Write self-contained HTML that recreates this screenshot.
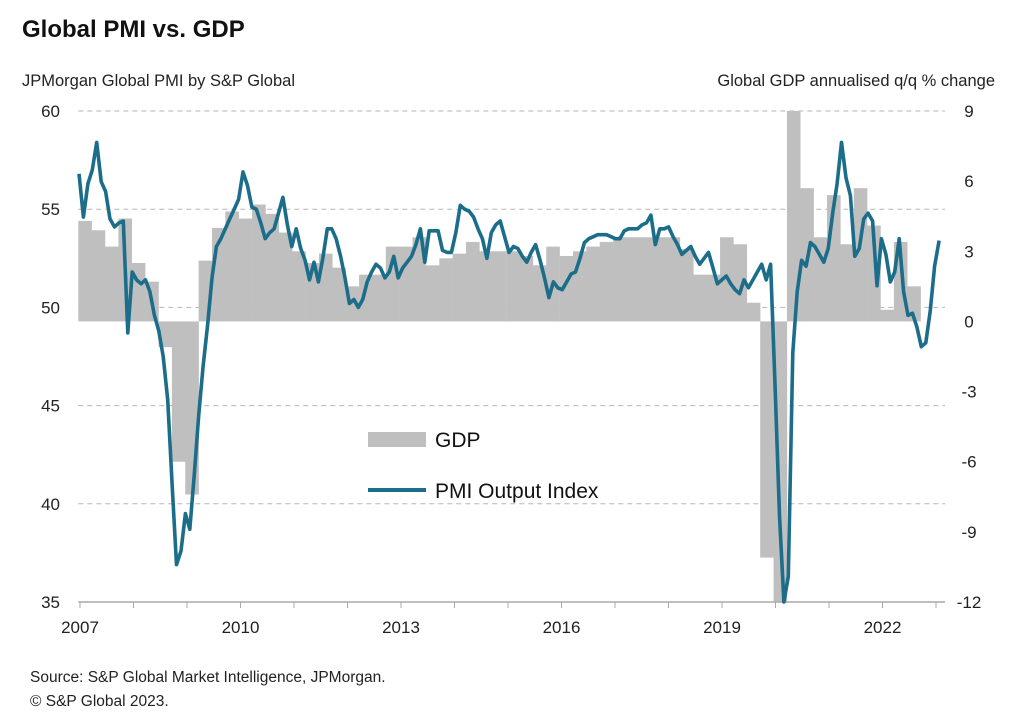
<!DOCTYPE html>
<html><head><meta charset="utf-8"><style>
body{margin:0;background:#fff;}
svg{display:block;font-family:"Liberation Sans",Arial,sans-serif;}
</style></head><body>
<svg id="chart" width="1026" height="722" viewBox="0 0 1026 722">
<text x="22" y="37" font-size="24" font-weight="bold" fill="#111">Global PMI vs. GDP</text>
<text x="22" y="86" font-size="16.5" fill="#222">JPMorgan Global PMI by S&amp;P Global</text>
<text x="995" y="86" font-size="16.5" fill="#222" text-anchor="end">Global GDP annualised q/q % change</text>
<g id="grid"></g>
<g id="bars"></g>
<g id="axes"></g>
<g id="line"></g>
<g>
<rect x="368" y="432" width="58" height="15" fill="#bfbfbf"/>
<text x="435" y="447" font-size="21" fill="#111">GDP</text>
<line x1="368" y1="490" x2="426" y2="490" stroke="#1b6d8a" stroke-width="4"/>
<text x="435" y="498" font-size="21" fill="#111">PMI Output Index</text>
</g>
<text x="30" y="682" font-size="15.5" fill="#222">Source: S&amp;P Global Market Intelligence, JPMorgan.</text>
<text x="30" y="706" font-size="15.5" fill="#222">© S&amp;P Global 2023.</text>
</svg>
<script>
const pmiTicks=[60,55,50,45,40,35];
const gdpTicks=[9,6,3,0,-3,-6,-9,-12];
const yearLabels=[2007,2010,2013,2016,2019,2022];
const pmi2007=[56.8,54.6,56.3,57.0,58.4,56.4,55.9,54.5,54.1,54.3,54.4,48.7];
const pmi2008=[51.8,51.4,51.2,51.4,50.8,49.6,48.8,47.5,45.3,41.0,36.9,37.6];
const pmi2009=[39.5,38.7,41.5,44.5,47.0,49.1,51.5,53.1,53.5,54.0,54.5,55.0];
const pmi2010=[55.5,56.9,56.2,55.1,55.0,54.3,53.5,53.8,54.0,54.8,55.6,54.2];
const pmi2011=[53.1,54.0,53.0,52.4,51.4,52.3,51.3,52.5,54.0,54.0,53.5,52.6];
const pmi2012=[51.5,50.2,50.4,50.0,50.4,51.3,51.8,52.2,52.0,51.5,51.8,52.6];
const pmi2013=[51.5,52.0,52.3,52.6,53.2,54.0,52.3,53.9,53.9,53.9,52.9,52.8];
const pmi2014=[52.8,53.8,55.2,55.0,54.9,54.6,54.0,53.5,52.5,53.8,54.2,54.4];
const pmi2015=[53.6,52.8,53.1,53.0,52.6,52.3,52.8,53.2,52.4,51.5,50.5,51.3];
const pmi2016=[51.0,50.9,51.3,51.7,51.8,52.5,53.3,53.5,53.6,53.7,53.7,53.7];
const pmi2017=[53.6,53.5,53.5,53.9,54.0,54.0,54.0,54.2,54.3,54.7,53.2,54.0];
const pmi2018=[54.0,54.1,53.6,53.2,52.7,52.9,53.1,52.6,52.2,52.5,52.8,52.0];
const pmi2019=[51.2,51.4,51.6,51.2,50.9,50.7,51.4,51.0,51.4,51.8,52.2,51.4];
const pmi2020=[52.2,46.1,39.4,26.2,36.3,47.7,50.8,52.4,52.1,53.3,53.1,52.7];
const pmi2021=[52.3,53.0,54.8,56.3,58.4,56.6,55.7,52.6,53.0,54.5,54.8,54.4];
const pmi2022=[51.1,53.5,52.7,51.3,51.8,53.5,50.8,49.6,49.7,49.0,48.0,48.2];
const pmi2023=[49.8,52.1,53.4];
const gdpQuarterly=[4.3,3.9,3.2,4.4, 2.5,1.7,-1.1,-6.0, -7.4,2.6,4.0,4.7, 4.4,5.0,4.6,3.8,
 3.0,2.5,2.9,2.3, 1.5,2.0,2.0,3.2, 3.2,3.6,2.4,2.7, 2.9,3.4,3.0,3.0,
 3.0,2.8,2.4,3.2, 2.8,3.0,3.2,3.4, 3.6,3.6,3.6,3.6, 3.6,3.1,2.0,2.0,
 3.6,3.3,0.8, -10.1,-30,30,5.7, 3.6,5.4,3.3,5.7, 4.1,0.5,3.4,1.5];

const NS="http://www.w3.org/2000/svg";
const X0=78.3, XR=945, PY60=111, PY35=602, GY9=111, GYm12=602;
const yP=v=>PY60+(60-v)*(PY35-PY60)/25;
const yG=v=>GY9+(9-v)*(GYm12-GY9)/21;
const xYear=y=>80+(y-2007)*53.5;
const xMonth=i=>79+i*53.2/12;
const xQ=k=>X0+k*13.37;
function mk(tag,attrs,parent){const e=document.createElementNS(NS,tag);for(const k in attrs)e.setAttribute(k,attrs[k]);parent.appendChild(e);return e;}
const grid=document.getElementById('grid'),bars=document.getElementById('bars'),axes=document.getElementById('axes'),lineG=document.getElementById('line');

pmiTicks.forEach(v=>{
 if(v>35){const l=mk('line',{x1:X0,x2:XR,y1:yP(v),y2:yP(v),stroke:'#b5b5b5','stroke-width':1,'stroke-dasharray':'5,4'},grid);
 
 }
 const t=mk('text',{x:60,y:yP(v)+6,'font-size':17,fill:'#222','text-anchor':'end'},axes);t.textContent=v;
 
 
});
gdpTicks.forEach(v=>{
 const t=mk('text',{x:969,y:yG(v)+6,'font-size':17,fill:'#222','text-anchor':'middle'},axes);t.textContent=v;
 
 
});
const clip=v=>Math.max(-12,Math.min(9,v));
gdpQuarterly.forEach((v,k)=>{
 const y0=yG(0),y1=yG(clip(v));
 const r=mk('rect',{x:xQ(k),y:Math.min(y0,y1),width:13.6,height:Math.abs(y1-y0),fill:'#bfbfbf'},bars);
 
 
});
const ax=mk('line',{x1:X0,x2:XR,y1:PY35,y2:PY35,stroke:'#aaa','stroke-width':1.5},axes);


for(let y=2007;y<=2023;y++){
 const tk=mk('line',{x1:xYear(y),x2:xYear(y),y1:PY35,y2:PY35+6,stroke:'#aaa','stroke-width':1},axes);
 
 
}
yearLabels.forEach(y=>{
 const t=mk('text',{x:xYear(y),y:633,'font-size':17,fill:'#222','text-anchor':'middle'},axes);t.textContent=y;
 
 
});
const pmi=[].concat(pmi2007,pmi2008,pmi2009,pmi2010,pmi2011,pmi2012,pmi2013,pmi2014,pmi2015,pmi2016,pmi2017,pmi2018,pmi2019,pmi2020,pmi2021,pmi2022,pmi2023);
const d=pmi.map((v,i)=>(i?'L':'M')+xMonth(i).toFixed(1)+','+yP(Math.max(35,v)).toFixed(1)).join(' ');
const p=mk('path',{d:d,fill:'none',stroke:'#1b6d8a','stroke-width':3.6,'stroke-linejoin':'round'},lineG);


</script>
</body></html>
